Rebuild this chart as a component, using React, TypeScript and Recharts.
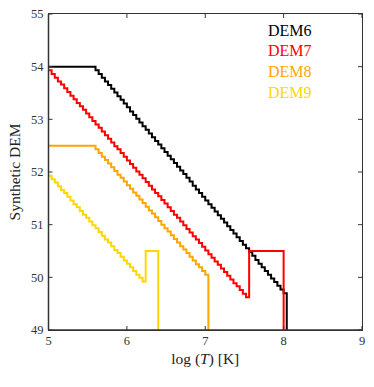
import { LineChart, Line, XAxis, YAxis, Legend } from 'recharts';

// log T grid (bin left edges), step 0.04
const LOG_T = [
  5.0, 5.04, 5.08, 5.12, 5.16, 5.2, 5.24, 5.28, 5.32, 5.36,
  5.4, 5.44, 5.48, 5.52, 5.56, 5.6, 5.64, 5.68, 5.72, 5.76,
  5.8, 5.84, 5.88, 5.92, 5.96, 6.0, 6.04, 6.08, 6.12, 6.16,
  6.2, 6.24, 6.28, 6.32, 6.36, 6.4, 6.44, 6.48, 6.52, 6.56,
  6.6, 6.64, 6.68, 6.72, 6.76, 6.8, 6.84, 6.88, 6.92, 6.96,
  7.0, 7.04, 7.08, 7.12, 7.16, 7.2, 7.24, 7.28, 7.32, 7.36,
  7.4, 7.44, 7.48, 7.52, 7.56, 7.6, 7.64, 7.68, 7.72, 7.76,
  7.8, 7.84, 7.88, 7.92, 7.96, 8.0, 8.04,
];

const DEM6 = [
  54, 54, 54, 54, 54, 54, 54, 54, 54, 54,
  54, 54, 54, 54, 54, 53.93, 53.86, 53.79, 53.72, 53.65,
  53.58, 53.51, 53.44, 53.37, 53.3, 53.23, 53.15, 53.08, 53.01, 52.94,
  52.87, 52.8, 52.73, 52.66, 52.59, 52.52, 52.45, 52.38, 52.31, 52.24,
  52.17, 52.1, 52.03, 51.96, 51.89, 51.82, 51.74, 51.67, 51.6, 51.53,
  51.46, 51.39, 51.32, 51.25, 51.18, 51.11, 51.04, 50.97, 50.9, 50.83,
  50.76, 50.69, 50.62, 50.55, 50.48, 50.41, 50.33, 50.26, 50.19, 50.12,
  50.05, 49.98, 49.91, 49.84, 49.77, 49.7, 49,
];

const DEM7 = [
  53.93, 53.86, 53.79, 53.72, 53.66, 53.59, 53.52, 53.45, 53.38, 53.31,
  53.25, 53.18, 53.11, 53.04, 52.97, 52.9, 52.84, 52.77, 52.7, 52.63,
  52.56, 52.49, 52.43, 52.36, 52.29, 52.22, 52.15, 52.08, 52.01, 51.95,
  51.88, 51.81, 51.74, 51.67, 51.6, 51.54, 51.47, 51.4, 51.33, 51.26,
  51.19, 51.13, 51.06, 50.99, 50.92, 50.85, 50.78, 50.72, 50.65, 50.58,
  50.51, 50.44, 50.37, 50.3, 50.24, 50.17, 50.1, 50.03, 49.96, 49.89,
  49.83, 49.76, 49.69, 49.62, 50.5, 50.5, 50.5, 50.5, 50.5, 50.5,
  50.5, 50.5, 50.5, 50.5, 50.5, 49, null,
];

const DEM8 = [
  52.5, 52.5, 52.5, 52.5, 52.5, 52.5, 52.5, 52.5, 52.5, 52.5,
  52.5, 52.5, 52.5, 52.5, 52.5, 52.43, 52.36, 52.29, 52.23, 52.16,
  52.09, 52.02, 51.95, 51.89, 51.82, 51.75, 51.68, 51.61, 51.55, 51.48,
  51.41, 51.34, 51.27, 51.21, 51.14, 51.07, 51.0, 50.93, 50.87, 50.8,
  50.73, 50.66, 50.59, 50.53, 50.46, 50.39, 50.32, 50.25, 50.19, 50.12,
  50.05, 49, null, null, null, null, null, null, null, null,
  null, null, null, null, null, null, null, null, null, null,
  null, null, null, null, null, null, null,
];

const DEM9 = [
  51.93, 51.86, 51.8, 51.73, 51.66, 51.6, 51.53, 51.46, 51.39, 51.33,
  51.26, 51.19, 51.13, 51.06, 50.99, 50.93, 50.86, 50.79, 50.72, 50.66,
  50.59, 50.52, 50.46, 50.39, 50.32, 50.26, 50.19, 50.12, 50.05, 49.99,
  49.92, 50.5, 50.5, 50.5, 50.5, 49, null, null, null, null,
  null, null, null, null, null, null, null, null, null, null,
  null, null, null, null, null, null, null, null, null, null,
  null, null, null, null, null, null, null, null, null, null,
  null, null, null, null, null, null, null,
];

const X_TICKS = [5, 6, 7, 8, 9];
const Y_TICKS = [49, 50, 51, 52, 53, 54, 55];
const X_DOMAIN = [5, 9];
const Y_DOMAIN = [49, 55];

const SERIES = [
  { key: 'dem6', name: 'DEM6', color: '#000000' },
  { key: 'dem7', name: 'DEM7', color: '#ff0000' },
  { key: 'dem8', name: 'DEM8', color: '#ffa500' },
  { key: 'dem9', name: 'DEM9', color: '#ffd700' },
];

const data = LOG_T.map((t, i) => ({
  t,
  dem6: DEM6[i],
  dem7: DEM7[i],
  dem8: DEM8[i],
  dem9: DEM9[i],
}));

const W = 374;
const H = 387;
const MARGIN = { top: 14, right: 12, bottom: 0, left: 0.5 };
const Y_AXIS_W = 48;
const X_AXIS_H = 57;
// plot box, derived from the layout above
const PLOT = {
  left: MARGIN.left + Y_AXIS_W,
  top: MARGIN.top,
  width: W - MARGIN.left - Y_AXIS_W - MARGIN.right,
  height: H - MARGIN.top - X_AXIS_H - MARGIN.bottom,
};

const FONT = 'Liberation Serif';
const AXIS_COLOR = '#333333';
const tickStyle = { fill: '#333', fontSize: 12.5, fontFamily: FONT };

function XLabel({ viewBox }: any) {
  const cx = viewBox.x + viewBox.width / 2;
  return (
    <text x={cx} y={viewBox.y + 34} textAnchor="middle" fontFamily={FONT} fontSize={15.5} fill="#222">
      <tspan>log (</tspan>
      <tspan fontStyle="italic">T</tspan>
      <tspan>) [K]</tspan>
    </text>
  );
}

function YLabel({ viewBox }: any) {
  const x = viewBox.x + 19;
  const y = viewBox.y + viewBox.height / 2;
  return (
    <text
      x={x}
      y={y}
      textAnchor="middle"
      fontFamily={FONT}
      fontSize={15.5}
      fill="#222"
      transform={`rotate(-90 ${x} ${y})`}
    >
      Synthetic DEM
    </text>
  );
}

function LegendText({ payload }: any) {
  return (
    <div style={{ fontFamily: FONT, fontSize: 16, lineHeight: '20.7px' }}>
      {(payload || []).map((p: any) => (
        <div key={p.value} style={{ color: p.color }}>
          {p.value}
        </div>
      ))}
    </div>
  );
}

// top and right edges of the box with inward ticks (matplotlib style frame)
function Frame() {
  const sx = (v: number) => PLOT.left + ((v - X_DOMAIN[0]) / (X_DOMAIN[1] - X_DOMAIN[0])) * PLOT.width;
  const sy = (v: number) => PLOT.top + PLOT.height - ((v - Y_DOMAIN[0]) / (Y_DOMAIN[1] - Y_DOMAIN[0])) * PLOT.height;
  const right = PLOT.left + PLOT.width;
  return (
    <>
      <div
        style={{
          position: 'absolute',
          left: PLOT.left - 0.75,
          top: PLOT.top - 0.75,
          width: PLOT.width + 1.5,
          height: PLOT.height + 1.5,
          boxSizing: 'border-box',
          border: `1.5px solid ${AXIS_COLOR}`,
          zIndex: 5,
          pointerEvents: 'none',
        }}
      />
      <svg
        width={W}
        height={H}
        style={{ position: 'absolute', left: 0, top: 0, zIndex: 6, pointerEvents: 'none' }}
      >
        {X_TICKS.map((t) => (
          <line key={`xt${t}`} x1={sx(t)} x2={sx(t)} y1={PLOT.top} y2={PLOT.top + 4} stroke={AXIS_COLOR} />
        ))}
        {Y_TICKS.map((t) => (
          <line key={`yt${t}`} x1={right - 4} x2={right} y1={sy(t)} y2={sy(t)} stroke={AXIS_COLOR} />
        ))}
      </svg>
    </>
  );
}

export default function App() {
  return (
    <div style={{ position: 'relative', margin: -8, width: W, height: H, background: '#fff' }}>
      <LineChart width={W} height={H} data={data} margin={MARGIN}>
        <XAxis
          dataKey="t"
          type="number"
          domain={X_DOMAIN}
          ticks={X_TICKS}
          height={X_AXIS_H}
          tickSize={-4}
          tickMargin={10}
          tick={tickStyle}
          axisLine={{ stroke: AXIS_COLOR, strokeWidth: 1.5 }}
          tickLine={{ stroke: AXIS_COLOR }}
          label={{ content: XLabel }}
        />
        <YAxis
          type="number"
          domain={Y_DOMAIN}
          ticks={Y_TICKS}
          width={Y_AXIS_W}
          tickSize={-4}
          tickMargin={9}
          tick={tickStyle}
          axisLine={{ stroke: AXIS_COLOR, strokeWidth: 1.5 }}
          tickLine={{ stroke: AXIS_COLOR }}
          label={{ content: YLabel }}
        />
        <Legend
          layout="vertical"
          align="center"
          verticalAlign="middle"
          content={LegendText}
          wrapperStyle={{ top: 20.5, left: 268, width: 60 }}
        />
        {SERIES.map((s) => (
          <Line
            key={s.key}
            type="stepAfter"
            dataKey={s.key}
            name={s.name}
            stroke={s.color}
            strokeWidth={2}
            dot={false}
            activeDot={false}
            isAnimationActive={false}
          />
        ))}
      </LineChart>
      <Frame />
    </div>
  );
}
